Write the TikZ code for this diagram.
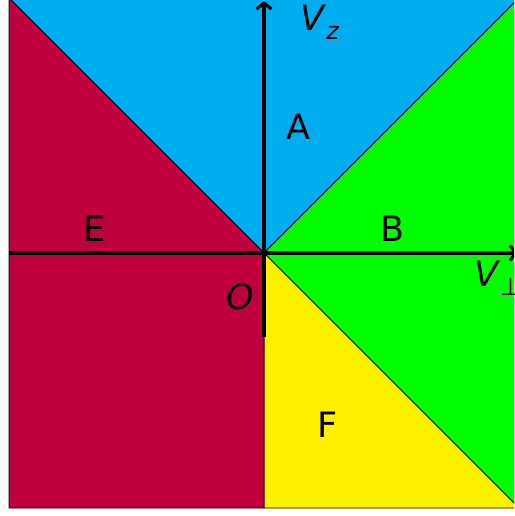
\documentclass[tikz,border=0pt]{standalone}
\usepackage{fontspec}
\setmainfont{DejaVu Sans}
\usetikzlibrary{arrows.meta}
\definecolor{regA}{RGB}{0,174,239}
\definecolor{regB}{RGB}{0,255,0}
\definecolor{regE}{RGB}{190,0,60}
\definecolor{regF}{RGB}{255,240,0}
\tikzset{
  region/.style={draw=black, line width=0.8pt, line join=miter},
  axis/.style={draw=black, line width=3.2pt, -{Straight Barb[length=6pt,width=15pt]}},
  lbl/.style={inner sep=0pt, font=\fontsize{35}{40}\selectfont}
}
\begin{document}
\begin{tikzpicture}[x=1pt,y=-1pt]
\useasboundingbox (0,0) rectangle (514,516);
\clip (0,0) rectangle (514,516);
\coordinate (O) at (264,253);
\coordinate (TL) at (9,-2);
\coordinate (TR) at (519,-2);
\coordinate (BR) at (519,508);
\coordinate (BM) at (264,508);
\coordinate (BL) at (9,508);
\coordinate (VB) at (264,337);
\coordinate (VT) at (264,1);
\coordinate (HL) at (9,253);
\coordinate (HR) at (518,253);
\fill[white] (0,0) rectangle (514,516);
\path[region, fill=regA] (O) -- (TL) -- (TR) -- cycle;
\path[region, fill=regB] (O) -- (TR) -- (BR) -- cycle;
\path[region, fill=regF] (O) -- (BR) -- (BM) -- cycle;
\path[region, fill=regE] (O) -- (BM) -- (BL) -- (TL) -- cycle;
\draw[axis] (VB) -- (VT);
\draw[axis] (HL) -- (HR);
\node[lbl] (lVz) at (320,22) {\textit{V}\raisebox{-0.25em}{\fontsize{24}{26}\selectfont\textit{z}}};
\node[lbl] (lA) at (298,127) {A};
\node[lbl] (lB) at (392,229) {B};
\node[lbl] (lE) at (95,229) {E};
\node[lbl] (lF) at (328,425) {F};
\node[lbl] (lO) at (240,297) {\textit{O}};
\node[lbl, anchor=west] (lVp) at (474,278) {\textit{V}\raisebox{-0.25em}{\fontsize{24}{26}\selectfont ⊥}};
\end{tikzpicture}
\end{document}
